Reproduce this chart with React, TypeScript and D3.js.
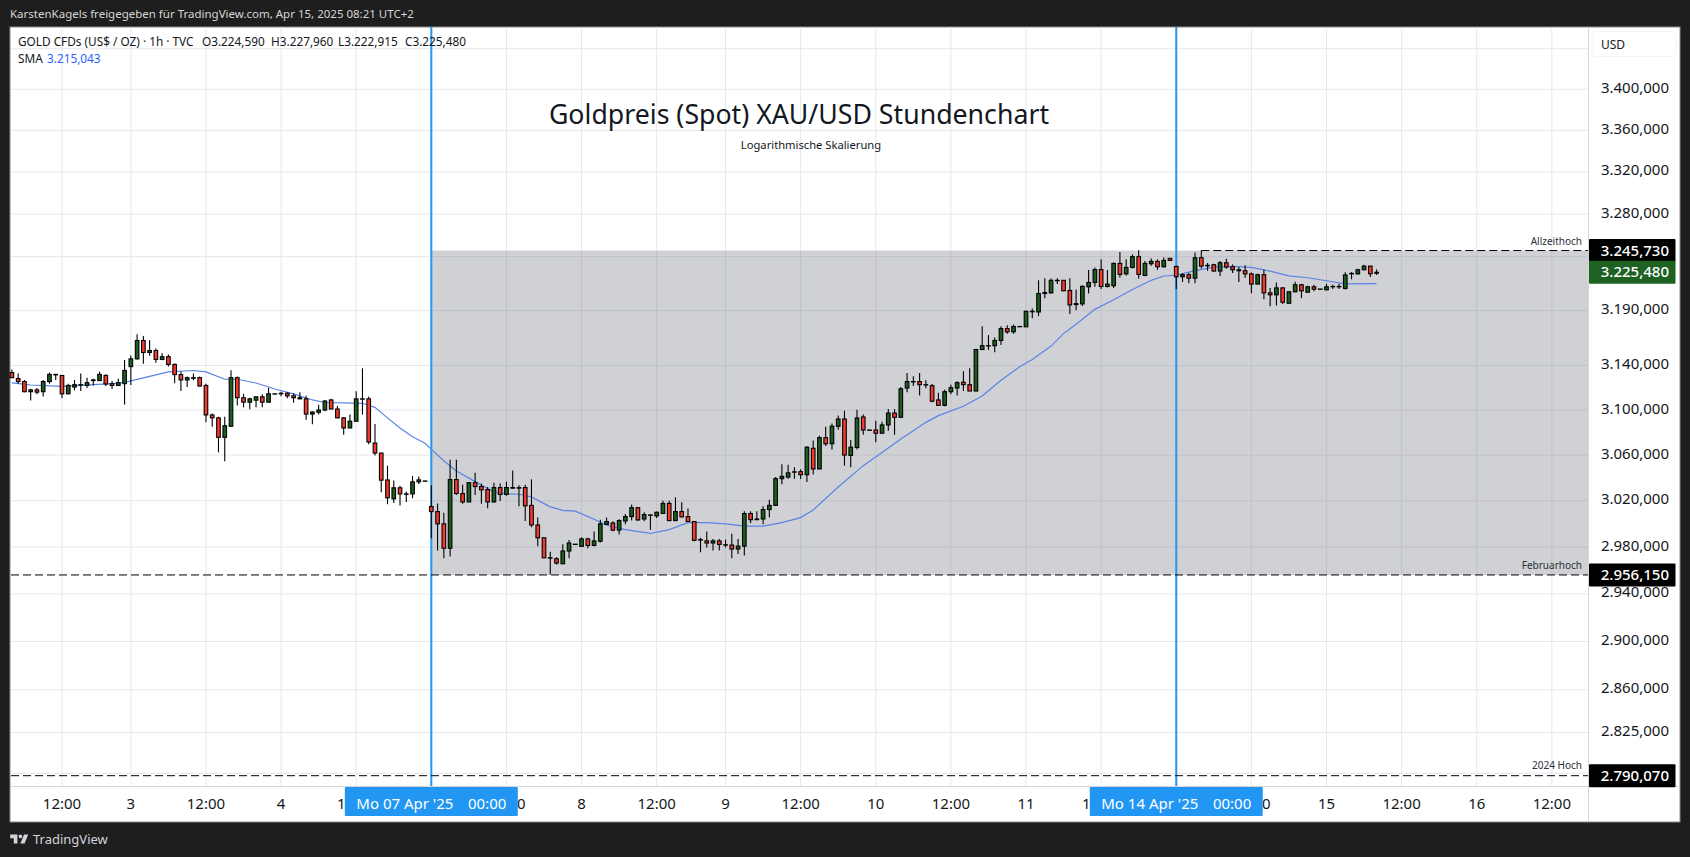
import React from 'react';
import * as d3 from 'd3';

const W = 1690;
const H = 857;

// hourly candles, bar 0 is the first one on the left
const opens = [
  3133.6,3128.2,3125.5,3116.4,3118,3116.4,3125.5,3131.5,3131,3114.5,
  3120.6,3122.4,3122,3126.4,3126.4,3131,3123.6,3122,3123.6,3139,
  3146,3162.7,3151.8,3153.6,3145.5,3148,3141,3131.8,3127,3128.5,
  3129,3122,3095.6,3093,3075.7,3085.5,3129,3111,3107,3108.8,
  3111.8,3107,3114.5,3114.5,3115,3112.7,3111,3110,3096.4,3098,
  3100,3109,3100.9,3093,3084,3090,3109.7,3110,3070.6,3061.8,
  3038.2,3021.7,3031.3,3025.7,3026,3036.5,3037.3,3015,3010.6,3000,
  2979,3038.5,3026.3,3019,3035.8,3032.4,3029.8,3019,3031.5,3025.5,
  3031,3031,3031.5,3016,2999,2988,2970.5,2970,2965.7,2976.6,
  2982.5,2980.6,2987,2981.4,2985,2999.6,3000.7,2994.6,3002.5,3006.3,
  3014,3004.2,3007.4,3006.9,3009,3017.7,3002.8,3010.6,3006.3,3002,
  2986,2985.3,2983.5,2985.3,2981.7,2981.7,2978.3,2980.8,3008.9,3003.6,
  3004.2,3012.4,3016,3039.3,3040.7,3045,3045.4,3042.7,3066,3047.8,
  3075.4,3070,3085.5,3092,3059.7,3066.7,3093.8,3082.2,3082.2,3079.3,
  3086.7,3097.3,3093.5,3119.7,3125.2,3125.5,3122.4,3121.8,3109,3104.2,
  3116.4,3119.7,3124.9,3122.7,3117,3154.5,3157.9,3158,3162.7,3173.6,
  3170.6,3175.5,3175.2,3189,3188.8,3205.8,3206.4,3217.6,3218,3208.6,
  3195.6,3196.2,3212,3216,3228,3212.3,3213,3233.7,3224,3230,
  3240,3222.5,3233.4,3235.6,3230.6,3238.4,3230.9,3221.3,3223.2,3220,
  3239,3231.5,3232.5,3226.6,3234.3,3230.6,3226.9,3226.9,3224,3214.5,
  3223.2,3206.4,3204.6,3211,3196.8,3207.4,3213.9,3207,3212,3210,
  3209.2,3212,3212,3210.5,3224,3224,3227.8,3231.2,3224.59,
];
const highs = [
  3136.4,3132.7,3127,3119,3119.7,3127,3133.6,3132,3131.5,3123.6,
  3127,3132.7,3129,3128,3134.5,3132,3126,3128,3145,3149,
  3168.5,3166.7,3163,3155.5,3151,3150,3141.8,3134.5,3130,3132.7,
  3130,3123.6,3097,3094,3094,3135.8,3130,3114.5,3111,3112,
  3114,3120,3114.5,3116.4,3116,3115,3115.8,3112.7,3098.8,3104.6,
  3109,3110,3103.6,3093.5,3096,3116.8,3137.5,3112,3087.6,3061.8,
  3050.7,3037.7,3033,3028,3041.6,3041.3,3037.3,3033.5,3017.7,3009.5,
  3056,3056,3034,3035.8,3044.4,3035,3032,3035.8,3035,3036.7,
  3046.5,3033.5,3034,3038.7,3005.4,2988,2976,2971.4,2982.5,2986,
  2982.5,2988.5,2988,2993.4,3003.6,3005.4,3002.2,3004,3008.6,3016.8,
  3014.7,3010,3008,3010.6,3020,3020,3023,3018.8,3013.3,3002,
  2988,2993.4,2987,2987,2986.4,2991.4,2987,3011,3011,3011,
  3015.3,3021,3040.7,3052,3051.6,3049.3,3047.5,3067.8,3073,3077,
  3085,3088,3095,3099.4,3073.4,3100.3,3095.9,3082.2,3090.5,3089.6,
  3100.9,3100.9,3120.6,3133.3,3130.3,3133.3,3126.7,3123.3,3115.5,3118.2,
  3122.7,3125.8,3134.8,3137.6,3154.5,3175.8,3167.6,3165.5,3175.8,3176.7,
  3177.3,3175.5,3190,3192,3218,3220,3219.8,3220,3218,3220,
  3209.5,3213.6,3227.5,3230,3237.7,3227.5,3234.6,3244.3,3237.7,3242,
  3246,3236,3238.4,3237.4,3239.3,3238.4,3231,3224.7,3225,3244,
  3245.7,3234,3233.4,3235.9,3238,3232.8,3230.3,3231.9,3225.3,3224,
  3227.8,3210.8,3216,3211.7,3207.4,3216.7,3214.8,3213,3213.9,3210,
  3214.8,3214,3214.8,3225.6,3225.6,3228.8,3232.5,3231.5,3227.96,
];
const lows = [
  3129,3123.6,3116,3108.5,3114,3112,3123.6,3127,3110.6,3114,
  3117.6,3117,3119.7,3122,3126,3121.5,3118.8,3121.5,3105,3122.4,
  3145.5,3141.5,3148.8,3142.4,3144.8,3139,3124,3117,3120.6,3126.7,
  3121,3089,3085,3062.4,3054.5,3085.5,3104,3102.4,3100.6,3102.4,
  3102.4,3106.7,3114.5,3112.4,3110.6,3106.4,3109.7,3091.4,3087.3,3096,
  3098.8,3100.6,3092.6,3078,3083.7,3090,3096,3069.5,3059.7,3027.5,
  3017,3018,3016,3019,3022.3,3034.7,3037.3,2987.6,2977,2970.4,
  2972,3025,3017.4,3019,3025,3017.4,3013.6,3018.5,3019.7,3024.4,
  3031,3015.3,3002.4,2997,2980.6,2970.8,2956.5,2965,2965.4,2970.4,
  2982.5,2980.3,2979,2980.6,2984,2999,2993.7,2990.8,2999.6,3003,
  3002.5,3002.2,2995,3005,3008.6,3002.5,3002.5,3005.7,3001.7,2985,
  2975.5,2979.7,2977,2977,2979.7,2970.5,2974,2972.7,3000.7,3003.6,
  2999.6,3005.4,3016,3034.4,3039.3,3039.3,3039,3036.4,3043,3047.5,
  3068,3065,3082.5,3050.7,3049.3,3065,3078,3082.2,3071.3,3079.3,
  3081.6,3078,3093.5,3115.8,3121.5,3113,3119.4,3107,3103.9,3103.3,
  3114.2,3113,3117,3117,3117,3154,3154,3152,3158.5,3168.8,
  3168.8,3175.5,3175,3183,3185,3201.5,3205.8,3214.5,3208.3,3187,
  3190.3,3194.3,3205.8,3212,3210,3211.4,3211,3220.7,3222.5,3229,
  3219.8,3222.2,3231.5,3227.8,3230,3236.5,3210,3216.4,3215.4,3215.4,
  3229,3227,3226.3,3222,3228.8,3224.7,3216.4,3220.4,3206,3214.5,
  3200.5,3194,3194.7,3196.2,3196.8,3207,3201.5,3207,3208,3210,
  3209,3210,3210,3209.5,3219,3223.5,3227.5,3221,3222.915,
];
const closes = [
  3129,3125.5,3116.4,3118,3116,3125.5,3132,3132,3114.5,3122,
  3122.7,3122.7,3124.5,3127,3132,3123.3,3122,3124.5,3135.5,3146,
  3162.7,3151.8,3153.6,3145.5,3148,3141,3131.8,3127,3129,3129,
  3121.5,3095.6,3093,3075.7,3086,3129,3111,3107,3110,3111.8,
  3107,3114.5,3114.5,3115,3112.7,3111,3110,3096.4,3098.2,3100,
  3108,3100.9,3093,3084,3090,3110,3110,3071.6,3061.8,3038,
  3022.6,3031.3,3026,3026,3036.5,3038.2,3037.3,3010.6,3000,2979,
  3038.5,3026.3,3019,3035.8,3032.4,3029.5,3019,3031.5,3025.5,3031.5,
  3031.5,3031.5,3015.6,2999,2988,2970.8,2970.8,2966.3,2976.6,2983.5,
  2982.5,2987,2981.4,2985.3,3000,3002,2994.6,3002.8,3006.3,3014,
  3003.4,3008,3007.7,3010,3017.7,3002.8,3010.6,3006,3002,2985.8,
  2986.4,2983.5,2985.3,2982.3,2982,2978.3,2980.8,3008.9,3003.6,3004.2,
  3012.4,3016,3039.3,3041.3,3044.4,3045.3,3042.8,3067,3047.8,3075.4,
  3070,3085.6,3092,3060,3067,3092.9,3082.2,3082.2,3079.3,3086.7,
  3097.3,3093.5,3119,3125.5,3125.5,3122.7,3122.7,3107.9,3104.2,3116.4,
  3120,3124.5,3122.7,3117,3154.5,3158,3158,3162.7,3173.6,3170.6,
  3175.5,3175.5,3189.4,3189.4,3205.8,3206.7,3218,3218,3208.3,3195.3,
  3196.5,3212.3,3216,3228,3212.3,3214.5,3233.7,3223.5,3230,3240,
  3223.5,3233.7,3235.6,3230.6,3236.5,3236.5,3221.3,3223.2,3220,3239,
  3231.2,3231.9,3226.6,3234.3,3230.3,3227.8,3227.8,3224,3214.5,3223.2,
  3206.4,3204.6,3211,3197.8,3207.4,3213.9,3208.3,3212,3209.8,3210,
  3212,3212.3,3212.3,3223,3224.4,3227.8,3231.2,3224.1,3225.48,
];

// SMA read at these bars, the line just joins them
const smaBars = [
  0,3,8,13,16,18,21,25,29,31,34,36,39,42,45,48,50,53,56,58,60,62,64,66,67,69,71,74,77,79,81,83,86,88,90,93,95,
  98,102,105,108,111,114,117,120,123,126,128,132,136,139,142,146,148,152,155,158,161,163,166,168,170,173,176,
  179,182,184,186,189,192,195,198,201,204,207,210,213,218,
];
const smaValues = [
  3124.3,3122.4,3121.2,3122.7,3123.6,3124.8,3128.8,3134.2,3135.5,3134.2,3127.6,3127.6,3124.2,3118.8,3114.5,3109,
  3106.7,3106.4,3106,3102.4,3093,3084,3076.3,3070.4,3065,3055,3046,3036.7,3027.7,3026,3025.7,3023.4,3014.7,
  3011.6,3011,3004,2998.8,2995,2991.7,2995,3001,3001,3000,2998,2998,3001,3005.4,3012,3032,3050.7,3062.3,3074.2,
  3089,3095,3103.3,3112.6,3126.7,3138.8,3145.5,3157.6,3169,3177.6,3191.2,3200,3209.5,3218,3222,3222.7,3227,
  3230.3,3231,3230,3226.6,3222.2,3220.4,3217.6,3214.8,3215,
];

const priceTicks = [3400, 3360, 3320, 3280, 3190, 3140, 3100, 3060, 3020, 2980, 2940, 2900, 2860, 2825];
const hiddenGrid = [3440, 3240, 2792]; // labels are covered by other boxes
const timeBars = [8, 19, 31, 43, 55, 67, 79, 91, 103, 114, 126, 138, 150, 162, 174, 186, 198, 210, 222, 234, 246];
const timeLabels = ['12:00', '3', '12:00', '4', '12:00', '', '12:00', '8', '12:00', '9', '12:00', '10', '12:00', '11', '12:00', '', '12:00', '15', '12:00', '16', '12:00'];
const markerBars = [67, 186];
const markerLabels = ["Mo 07 Apr '25", "Mo 14 Apr '25"];

const athPrice = 3245.73;
const febPrice = 2956.15;
const high2024 = 2790.07;
const lastClose = 3225.48;
const athStartBar = 190;

const plotLeft = 11;
const plotRight = 1588;
const plotTop = 27;
const plotBottom = 786;
const frameRight = 1680;
const frameBottom = 822;

const FONT = '"Noto Sans", sans-serif';
const GRID = '#e7e8ee';
const BLUE = '#2196f3';

const de = d3.formatLocale({ decimal: ',', thousands: '.', grouping: [3], currency: ['', ''] });
const fmt = de.format(',.3f');

const x = d3.scaleLinear().domain([0, 246]).range([11.9, 11.9 + 246 * 6.26]);
const y = d3.scaleLog().domain([3461.6, 2781.8]).range([plotTop, plotBottom]);

const smaLine = d3.line<number>()
  .x(d => x(smaBars[d]))
  .y(d => y(smaValues[d]));

const PriceTag: React.FC<{ price: number; fill: string }> = ({ price, fill }) => (
  <g>
    <rect x={plotRight + 1} y={y(price) - 11.5} width={86.5} height={23} fill={fill} rx={1} />
    <text x={1669} y={y(price) + 5.2} textAnchor="end" fontSize={15} fontWeight={500} fill="#fff" fontFamily={FONT}>{fmt(price)}</text>
  </g>
);

const App: React.FC = () => {
  const bw = 3.6;
  return (
    <svg width={W} height={H} style={{ position: 'fixed', left: 0, top: 0 }} fontFamily={FONT}>
      <rect width={W} height={H} fill="#1e1e1e" />
      <text x={10} y={18} fontSize={11.5} fill="#d6d6d6">KarstenKagels freigegeben für TradingView.com, Apr 15, 2025 08:21 UTC+2</text>

      <rect x={10} y={plotTop} width={frameRight - 10} height={frameBottom - plotTop} fill="#fff" stroke="#8a8a8a" />

      {/* grid */}
      {[...priceTicks, ...hiddenGrid].map(p => (
        <line key={p} x1={plotLeft} x2={plotRight} y1={y(p)} y2={y(p)} stroke={GRID} strokeWidth={1} />
      ))}
      {timeBars.map(b => (
        <line key={b} x1={x(b)} x2={x(b)} y1={plotTop} y2={plotBottom} stroke={GRID} strokeWidth={1} />
      ))}

      {/* range between feb high and ATH */}
      <rect x={x(67)} y={y(athPrice)} width={plotRight - x(67)} height={y(febPrice) - y(athPrice)} fill="#787b86" fillOpacity={0.35} />

      {/* axis separators */}
      <line x1={plotLeft} x2={frameRight} y1={plotBottom + 0.5} y2={plotBottom + 0.5} stroke="#d3d4dc" />
      <line x1={plotRight + 0.5} x2={plotRight + 0.5} y1={plotTop} y2={frameBottom} stroke="#d3d4dc" />

      {/* marker lines */}
      {markerBars.map(b => (
        <line key={b} x1={x(b)} x2={x(b)} y1={plotTop} y2={plotBottom} stroke={BLUE} strokeWidth={2} />
      ))}

      {/* title */}
      <text x={799} y={124} textAnchor="middle" fontSize={26.7} fill="#131722">Goldpreis (Spot) XAU/USD Stundenchart</text>
      <text x={811} y={149} textAnchor="middle" fontSize={11.2} fill="#131722">Logarithmische Skalierung</text>

      {/* legend */}
      <g fontSize={11.8} fill="#131722">
        <text x={18} y={46}>GOLD CFDs (US$ / OZ) · 1h · TVC</text>
        <text x={202} y={46}>O3.224,590</text>
        <text x={271} y={46}>H3.227,960</text>
        <text x={338} y={46}>L3.222,915</text>
        <text x={405} y={46}>C3.225,480</text>
        <text x={18} y={63}>SMA</text>
        <text x={47} y={63} fill="#2962ff">{fmt(smaValues[smaValues.length - 1] + 0.043)}</text>
      </g>

      {/* SMA */}
      <path d={smaLine(d3.range(smaBars.length)) || ''} fill="none" stroke="#5b83e6" strokeWidth={1.2} />

      {/* candles */}
      {closes.map((c, i) => {
        const up = c >= opens[i];
        const top = y(Math.max(opens[i], c));
        const bot = y(Math.min(opens[i], c));
        return (
          <g key={i}>
            <line x1={x(i)} x2={x(i)} y1={y(highs[i])} y2={y(lows[i])} stroke="#000" strokeWidth={1.1} />
            <rect x={x(i) - bw / 2} y={top} width={bw} height={Math.max(bot - top, 0.3)} fill={up ? '#1b5e20' : '#f7392e'} stroke="#000" strokeWidth={1.1} />
          </g>
        );
      })}

      {/* horizontal levels */}
      <g stroke="#000" strokeDasharray="8 4" strokeWidth={1}>
        <line x1={x(athStartBar)} x2={plotRight} y1={y(athPrice)} y2={y(athPrice)} />
        <line x1={plotLeft} x2={plotRight} y1={y(febPrice)} y2={y(febPrice)} />
        <line x1={plotLeft} x2={plotRight} y1={y(high2024)} y2={y(high2024)} />
      </g>
      <g fontSize={10} fill="#2a2e39" textAnchor="end">
        <text x={1582} y={245}>Allzeithoch</text>
        <text x={1582} y={569}>Februarhoch</text>
        <text x={1582} y={769}>2024 Hoch</text>
      </g>

      {/* price scale */}
      <g fontSize={15} fill="#131722" textAnchor="end">
        {priceTicks.map(p => (
          <text key={p} x={1669} y={y(p) + 3.5}>{fmt(p)}</text>
        ))}
      </g>
      <PriceTag price={athPrice} fill="#000" />
      <PriceTag price={lastClose} fill="#1e6123" />
      <PriceTag price={febPrice} fill="#000" />
      <PriceTag price={high2024} fill="#000" />

      <rect x={1592} y={31.5} width={84} height={25} rx={4} fill="#fff" stroke="#f0f3fa" />
      <text x={1601} y={49} fontSize={12} fill="#131722">USD</text>

      {/* time scale */}
      <g fontSize={15} fill="#131722" textAnchor="middle">
        {timeBars.filter((_, i) => timeLabels[i] !== '').map(b => (
          <text key={b} x={x(b)} y={809}>{timeLabels[timeBars.indexOf(b)]}</text>
        ))}
      </g>
      {markerBars.map((b, i) => (
        <g key={b}>
          <rect x={x(b) - 86.5} y={787} width={173} height={29} rx={1} fill={BLUE} />
          <text x={x(b) - 75} y={809} fontSize={15} fill="#fff">{markerLabels[i]}</text>
          <text x={x(b) + 75} y={809} fontSize={15} fill="#fff" textAnchor="end">00:00</text>
        </g>
      ))}

      {/* footer logo */}
      <g transform="translate(9,831) scale(0.6)" fill="#d1d4dc">
        <path d="M14 6H2v6h6v9h6V6Zm12 15h-7l6-15h7l-6 15Zm-7-9a3 3 0 1 0 0-6 3 3 0 0 0 0 6Z" />
      </g>
      <text x={33} y={844} fontSize={13} fill="#d1d4dc">TradingView</text>
    </svg>
  );
};

export default App;
